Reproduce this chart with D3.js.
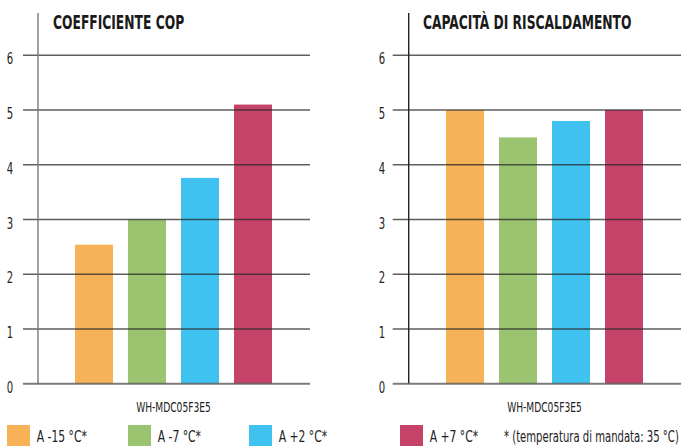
<!DOCTYPE html>
<html>
<head>
<meta charset="utf-8">
<script src="https://cdn.jsdelivr.net/npm/d3@7"></script>
<style>
  html, body { margin: 0; padding: 0; background: #fff; }
  svg { display: block; }
  text { font-family: "DejaVu Sans Condensed", "DejaVu Sans", sans-serif; fill: #222; }
</style>
</head>
<body>
<script>
// Series and labels
const conditions = ["A -15 °C*", "A -7 °C*", "A +2 °C*", "A +7 °C*"];
const colors = ["#F7B156", "#9AC46F", "#40C2F1", "#C54368"];
const copValues = [2.54, 3.0, 3.76, 5.1];
const capacityValues = [5.0, 4.5, 4.8, 5.0];
const yTicks = [0, 1, 2, 3, 4, 5, 6];
const model = "WH-MDC05F3E5";
const titles = ["COEFFICIENTE COP", "CAPACITÀ DI RISCALDAMENTO"];
const footnote = "* (temperatura di mandata: 35 °C)";

const W = 683, H = 446;
const svg = d3.select("body").append("svg").attr("width", W).attr("height", H);

const y = d3.scaleLinear().domain([0, 6]).range([383.7, 55.3]);

// condensed text helper: horizontal squeeze around the anchor point
function ctext(g, x, yPos, str, opts) {
  const t = g.append("text")
    .attr("transform", `translate(${x},${yPos}) scale(${opts.sx},1)`)
    .attr("font-size", opts.size)
    .attr("text-anchor", opts.anchor || "start")
    .text(str);
  if (opts.weight) t.attr("font-weight", opts.weight);
  if (opts.fill) t.style("fill", opts.fill);
  return t;
}

const panels = [
  { title: titles[0], values: copValues, axisX: 38, gridX0: 23, gridX1: 310, labelX: 10, titleX: 53,
    band: [67.5, 279.5], axisColor: "#7a7a7a" },
  { title: titles[1], values: capacityValues, axisX: 408.7, gridX0: 392.7, gridX1: 681, labelX: 382, titleX: 423,
    band: [438.5, 650.5], axisColor: "#222" }
];

panels.forEach(p => {
  const g = svg.append("g");
  const x = d3.scaleBand().domain(conditions).range(p.band)
    .paddingInner(15 / 53).paddingOuter(7.5 / 53);

  // bars
  g.selectAll("rect.bar").data(conditions).join("rect")
    .attr("class", "bar")
    .attr("x", d => x(d))
    .attr("width", x.bandwidth())
    .attr("y", (d, i) => y(p.values[i]))
    .attr("height", (d, i) => y(0) - y(p.values[i]))
    .attr("fill", (d, i) => colors[i]);

  // horizontal grid lines, drawn over the bars
  g.selectAll("line.grid").data(yTicks.filter(t => t > 0)).join("line")
    .attr("class", "grid")
    .attr("x1", p.gridX0).attr("x2", p.gridX1)
    .attr("y1", d => y(d)).attr("y2", d => y(d))
    .attr("stroke", "rgba(40,40,40,0.75)")
    .attr("stroke-width", 1.4);

  // vertical axis
  g.append("line")
    .attr("x1", p.axisX).attr("x2", p.axisX)
    .attr("y1", 13).attr("y2", y(0))
    .attr("stroke", p.axisColor).attr("stroke-width", 1.4);

  // baseline
  g.append("line")
    .attr("x1", p.gridX0).attr("x2", p.gridX1)
    .attr("y1", y(0)).attr("y2", y(0))
    .attr("stroke", "rgba(90,90,90,0.8)").attr("stroke-width", 2);

  // tick labels
  yTicks.forEach(t => {
    ctext(g, p.labelX, y(t) + 9, String(t), { size: 16, sx: 0.7, anchor: "middle" });
  });

  // title
  ctext(g, p.titleX, 29.3, p.title, { size: 19, sx: 0.72, weight: "bold", fill: "#1a1a1a" });

  // category label
  ctext(g, (p.band[0] + p.band[1]) / 2, 411.5, model, { size: 14.5, sx: 0.7, anchor: "middle" });
});

// legend
const legendSquares = [7, 128, 249, 400];
const legend = svg.append("g");
conditions.forEach((c, i) => {
  legend.append("rect")
    .attr("x", legendSquares[i]).attr("y", 425)
    .attr("width", 23).attr("height", 22)
    .attr("fill", colors[i]);
  ctext(legend, legendSquares[i] + 29.7, 441.5, c, { size: 16, sx: 0.75 });
});
ctext(legend, 504, 441.5, footnote, { size: 16, sx: 0.7 });
</script>
</body>
</html>
